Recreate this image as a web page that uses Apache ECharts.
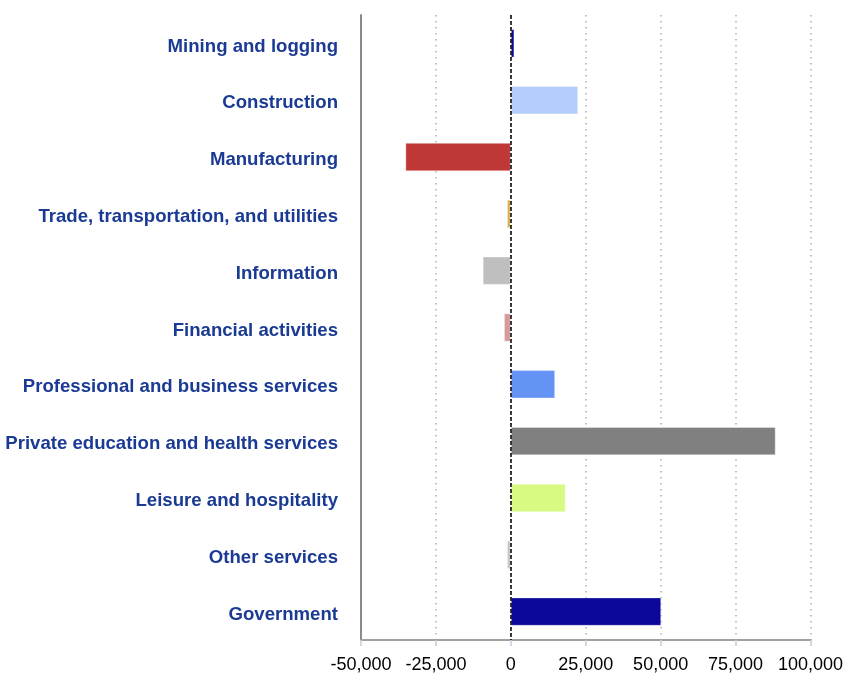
<!DOCTYPE html>
<html>
<head>
<meta charset="utf-8">
<script src="https://cdn.jsdelivr.net/npm/echarts@6/dist/echarts.min.js"></script>
<style>
  html, body { margin: 0; padding: 0; background: #fff; }
  #chart { width: 846px; height: 675px; }
</style>
</head>
<body>
<div id="chart"></div>
<script>
  // industries, top to bottom
  var industries = [
    'Mining and logging',
    'Construction',
    'Manufacturing',
    'Trade, transportation, and utilities',
    'Information',
    'Financial activities',
    'Professional and business services',
    'Private education and health services',
    'Leisure and hospitality',
    'Other services',
    'Government'
  ];
  var jobChange = [1200, 22500, -35200, -1300, -9400, -2300, 14800, 88400, 18300, -1300, 50200];
  var barColors = ['#0b0899', '#b4cdfa', '#bf3836', '#dcb04e', '#bfbfbf', '#d69a9b',
                   '#6492f5', '#808080', '#d9fa82', '#c6c6c6', '#0b0899'];
  var xTicks = { min: -50000, max: 100000, interval: 25000 };

  var chart = echarts.init(document.getElementById('chart'));

  var barData = jobChange.map(function (v, i) {
    return { value: v, itemStyle: { color: barColors[i] } };
  });

  chart.setOption({
    animation: false,
    grid: { left: 361, right: 35, top: 15, bottom: 35 },
    xAxis: {
      type: 'value',
      min: xTicks.min,
      max: xTicks.max,
      interval: xTicks.interval,
      axisLine: { show: true, lineStyle: { color: '#a0a0a0', width: 2 } },
      axisTick: { show: true, length: 6, lineStyle: { color: '#c3cbdc', width: 1.5 } },
      axisLabel: {
        color: '#000',
        fontSize: 18,
        fontFamily: 'Liberation Sans, Arial, sans-serif',
        margin: 16,
        formatter: function (v) { return v.toLocaleString('en-US'); }
      },
      splitLine: { show: true, lineStyle: { color: '#b0b0b0', type: [1.5, 4.5], width: 1.5 } }
    },
    yAxis: {
      type: 'category',
      inverse: true,
      data: industries,
      axisLine: { show: true, onZero: false, lineStyle: { color: '#8a8a8a', width: 2 } },
      axisTick: { show: false },
      axisLabel: {
        margin: 23,
        formatter: function (v) { return '{t|' + v + '}'; },
        rich: {
          t: {
            color: '#1a3a94',
            fontSize: 18.6,
            fontWeight: 'bold',
            fontFamily: 'Liberation Sans, Arial, sans-serif',
            padding: [6, 0, 0, 0]
          }
        }
      }
    },
    series: [{
      type: 'bar',
      data: barData,
      barWidth: '50%',
      itemStyle: { borderColor: 'rgba(255,255,255,0.35)', borderWidth: 1 },
      markLine: {
        symbol: 'none',
        silent: true,
        label: { show: false },
        lineStyle: { color: '#000', type: [4, 2], width: 1.5 },
        data: [{ xAxis: 0 }]
      }
    }]
  });
</script>
</body>
</html>
